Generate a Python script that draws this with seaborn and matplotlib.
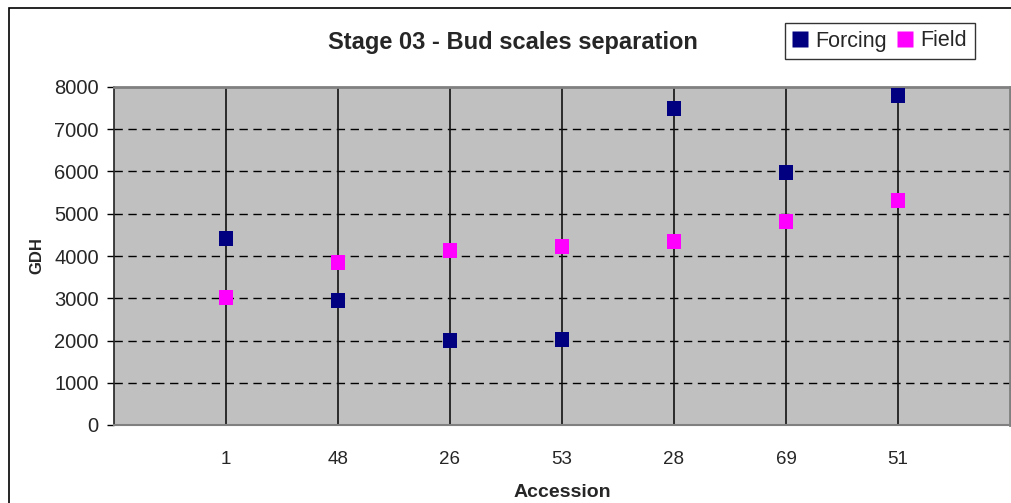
import matplotlib
matplotlib.use("Agg")
import matplotlib.pyplot as plt
import seaborn as sns
import pandas as pd
from matplotlib.patches import Rectangle
from matplotlib.lines import Line2D

accessions = ["1", "48", "26", "53", "28", "69", "51"]
forcing = [4420, 2950, 2000, 2030, 7500, 5980, 7800]
field = [3010, 3840, 4140, 4220, 4340, 4820, 5310]
y_ticks = [0, 1000, 2000, 3000, 4000, 5000, 6000, 7000, 8000]

positions = list(range(1, len(accessions) + 1))
df = pd.DataFrame({
    "pos": positions * 2,
    "GDH": forcing + field,
    "series": ["Forcing"] * len(forcing) + ["Field"] * len(field),
})

sns.set_theme(style="white")
plt.rcParams["font.family"] = ["Liberation Sans", "DejaVu Sans"]

fig = plt.figure(figsize=(10.12, 5.03), dpi=100)
ax = fig.add_axes([114 / 1012, 1 - 425 / 503, 896 / 1012, 338 / 503])
ax.set_facecolor("#C0C0C0")

# Gridlines: dashed horizontal, solid vertical at each accession
for y in y_ticks[1:-1]:
    ax.axhline(y, color="black", lw=1.0, ls=(0, (6, 4)), zorder=1)
for p in positions:
    ax.axvline(p, color="#111111", lw=1.2, zorder=1)

sns.scatterplot(data=df, x="pos", y="GDH", hue="series", marker="s",
                palette={"Forcing": "#000080", "Field": "#FF00FF"},
                s=115, edgecolor="none", linewidth=0, ax=ax, zorder=3,
                legend=False)

ax.set_xlim(0, 8)
ax.set_ylim(0, 8000)
ax.set_yticks(y_ticks)
ax.set_yticklabels([str(v) for v in y_ticks], fontsize=14.5)
ax.set_xticks(positions)
ax.set_xticklabels(accessions, fontsize=13.5)
ax.tick_params(axis="x", length=0, pad=19)
ax.tick_params(axis="y", length=5, width=1, color="black", direction="out", left=True, pad=6)

ax.spines["left"].set_color("#222222")
ax.spines["left"].set_linewidth(1.2)
ax.spines["bottom"].set_color("#808080")
ax.spines["bottom"].set_linewidth(1.5)
for side in ("top", "right"):
    ax.spines[side].set_color("#808080")
    ax.spines[side].set_linewidth(2.0)

ax.set_xlabel("Accession", fontsize=14, fontweight="bold", labelpad=11)
ax.set_ylabel("GDH", fontsize=12, fontweight="bold", labelpad=7)

fig.text(513 / 1012, 1 - 43 / 503, "Stage 03 - Bud scales separation", ha="center", va="center",
         fontsize=17, fontweight="bold")

# Legend box
handles = [
    Line2D([], [], marker="s", color="none", markerfacecolor="#000080", markeredgecolor="none", markersize=11),
    Line2D([], [], marker="s", color="none", markerfacecolor="#FF00FF", markeredgecolor="none", markersize=11),
]
leg = fig.legend(handles, ["Forcing", "Field"], loc="center", bbox_to_anchor=(880 / 1012, 1 - 41 / 503),
                 ncol=2, fontsize=15.5, frameon=True, fancybox=False, handlelength=0.7,
                 handletextpad=0.35, columnspacing=0.5, borderpad=0.35, borderaxespad=0)
leg.get_frame().set_edgecolor("black")
leg.get_frame().set_linewidth(1.0)

# Outer chart frame
fig.patches.append(Rectangle((9 / 1012, -0.05), 1.1, 1.05 - 8 / 503, transform=fig.transFigure,
                             fill=False, edgecolor="black", lw=1.2))

fig.savefig("out.png", dpi=100)
